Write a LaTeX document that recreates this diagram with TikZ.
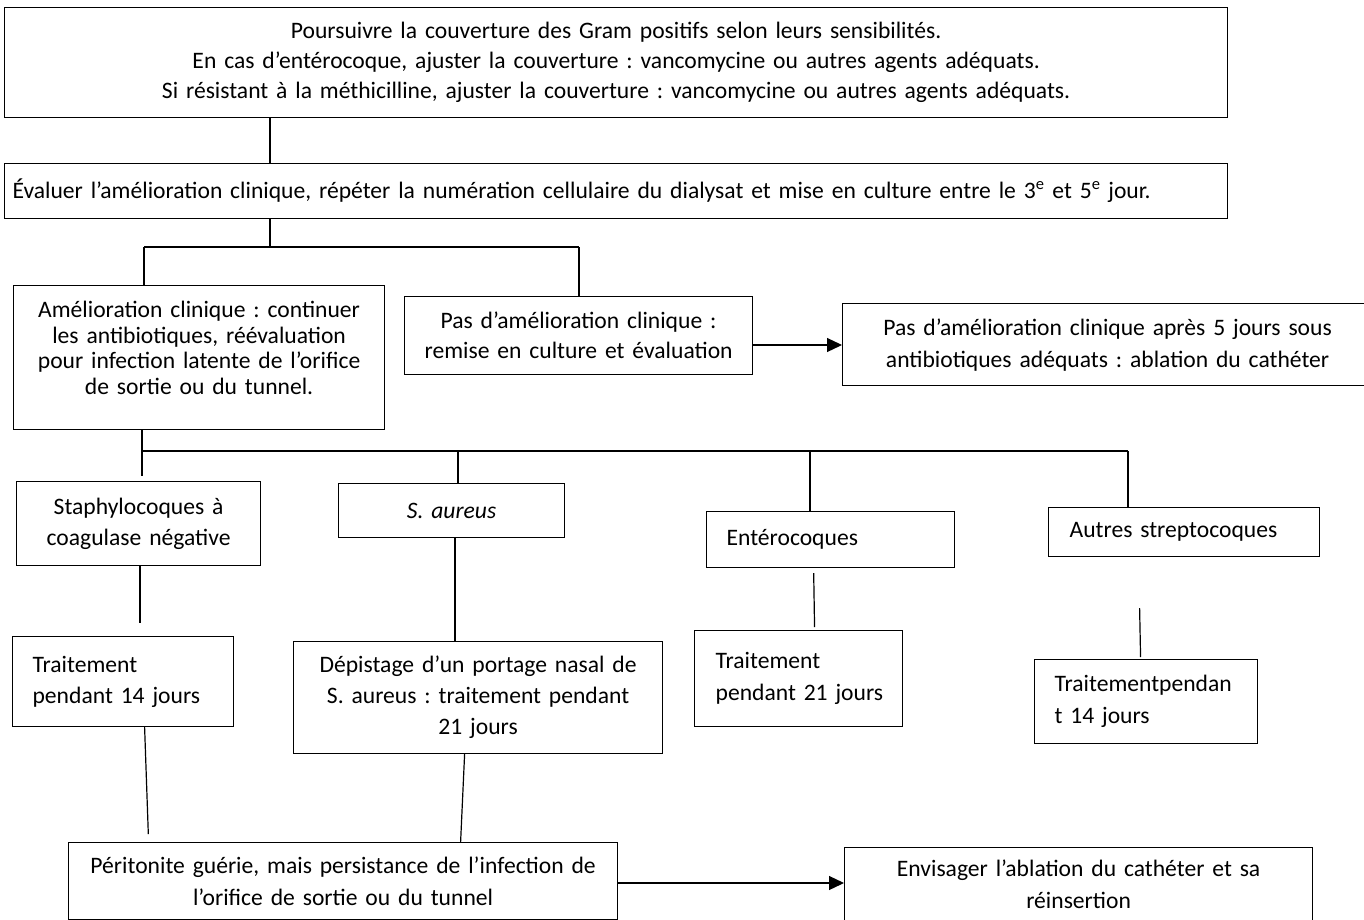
\documentclass[tikz,border=0pt]{standalone}
\usepackage{fontspec}
\setmainfont{Carlito}
\usetikzlibrary{arrows.meta,calc}
\frenchspacing
\tikzset{
  box/.style={draw, line width=1.2pt, inner sep=0pt, anchor=north west},
  ln/.style={line width=1.2pt},
  arr/.style={line width=1.2pt, -{Triangle[length=15pt,width=14pt]}},
  fb/.style={font=\frenchspacing\fontsize{23.6}{#1}\selectfont},
}
\begin{document}
\begin{tikzpicture}[x=1pt,y=-1pt]
\clip (0,0) rectangle (1364,920);
\fill[white] (0,0) rectangle (1364,920);
% nodes
\node[box,fb=30,minimum width=1223pt,minimum height=110pt,text width=1215pt,align=center] (T) at (4,7)
  {Poursuivre la couverture des Gram positifs selon leurs sensibilités.\\
   En cas d’entérocoque, ajuster la couverture : vancomycine ou autres agents adéquats.\\
   Si résistant à la méthicilline, ajuster la couverture : vancomycine ou autres agents adéquats.};
\node[box,fb=30,minimum width=1223pt,minimum height=55pt,text width=1207pt,align=left] (E) at (4,163)
  {\mbox{Évaluer l’amélioration clinique, répéter la numération cellulaire du dialysat et mise en culture entre le 3\textsuperscript{e} et 5\textsuperscript{e} jour.}};
\node[box,fb=25.5,minimum width=371pt,minimum height=144pt,text width=367pt,align=center] (A) at (13,285)
  {Amélioration clinique : continuer\\ les antibiotiques, réévaluation\\ pour infection latente de l’orifice\\ de sortie ou du tunnel.\rule[-20pt]{0pt}{20pt}};
\node[box,fb=30,minimum width=348pt,minimum height=78pt,text width=344pt,align=center] (P) at (404,296)
  {Pas d’amélioration clinique :\\ remise en culture et évaluation};
\node[box,fb=32,minimum width=530pt,minimum height=82pt,text width=526pt,align=center] (R) at (842,303)
  {Pas d’amélioration clinique après 5 jours sous\\ antibiotiques adéquats : ablation du cathéter};
\node[box,fb=31,minimum width=244pt,minimum height=84pt,text width=240pt,align=center] (St) at (16,481)
  {Staphylocoques à\\ coagulase négative};
\node[box,fb=31,minimum width=226pt,minimum height=54pt,text width=222pt,align=center] (Sa) at (338,483)
  {\itshape S. aureus};
\node[box,fb=31,minimum width=248pt,minimum height=56pt,text width=208pt,align=left] (En) at (706,511)
  {\mbox{Entérocoques}};
\node[box,fb=31,minimum width=271pt,minimum height=49pt,text width=229pt,align=left] (Au) at (1048,507)
  {\mbox{Autres streptocoques}};
\node[box,fb=31,minimum width=221pt,minimum height=90pt,text width=181pt,align=left] (T14) at (12,636)
  {\mbox{Traitement}\\ \mbox{pendant 14 jours}};
\node[box,fb=31,minimum width=369pt,minimum height=112pt,text width=365pt,align=center] (D) at (293,641)
  {Dépistage d’un portage nasal de\\ S. aureus : traitement pendant\\ 21 jours};
\node[box,fb=32,minimum width=208pt,minimum height=96pt,text width=166pt,align=left] (T21) at (694,630)
  {\mbox{Traitement}\\ \mbox{pendant 21 jours}};
\node[box,fb=32,minimum width=223pt,minimum height=84pt,text width=183pt,align=left] (TP) at (1034,659)
  {\mbox{Traitementpendan}\\ \mbox{t 14 jours}};
\node[box,fb=32,minimum width=549pt,minimum height=77pt,text width=545pt,align=center] (Pe) at (68,842)
  {Péritonite guérie, mais persistance de l’infection de\\ l’orifice de sortie ou du tunnel};
\node[box,fb=32,minimum width=468pt,minimum height=74pt,text width=464pt,align=center] (Ev) at (844,847)
  {Envisager l’ablation du cathéter et sa\\ réinsertion};
% junction coordinates
\coordinate (c270) at (270,0);
\coordinate (j1) at (270,247);
\coordinate (jl) at (144,247);
\coordinate (jr) at (579,247);
\coordinate (k) at (142,451);
\coordinate (kr) at (1128,451);
\coordinate (k2) at (458,451);
\coordinate (k3) at (810,451);
\coordinate (x140) at (140,0);
\coordinate (x455) at (455,0);
\coordinate (ay) at (0,345);
\coordinate (by) at (0,883);
% connectors
\draw[ln] (T.south -| c270) -- (E.north -| c270);
\draw[ln] (E.south -| c270) -- (j1);
\draw[ln] (jl) -- (jr);
\draw[ln] (jl) -- (A.north -| jl);
\draw[ln] (jr) -- (P.north -| jr);
\draw[ln, shorten >=5pt] (A.south -| k) -- (St.north -| k);
\draw[ln] (k) -- (kr);
\draw[ln] (k2) -- (Sa.north -| k2);
\draw[ln] (k3) -- (En.north -| k3);
\draw[ln] (kr) -- (Au.north -| kr);
\draw[ln, shorten >=13pt] (St.south -| x140) -- (T14.north -| x140);
\draw[ln] (Sa.south -| x455) -- (D.north -| x455);
\draw[ln, shorten >=8pt] ([xshift=21.5pt]T14.south) -- ([xshift=-194.5pt]Pe.north);
\draw[ln] ([xshift=-13.5pt]D.south) -- ([xshift=117.5pt]Pe.north);
\draw[ln, shorten <=5pt, shorten >=3pt] ([xshift=-17pt]En.south) -- ([xshift=16pt]T21.north);
\draw[ln, shorten <=51pt, shorten >=2pt] ([xshift=-45.5pt]Au.south) -- ([xshift=-5.5pt]TP.north);
\draw[arr] (P.east |- ay) -- (R.west |- ay);
\draw[arr] (Pe.east |- by) -- (Ev.west |- by);
\end{tikzpicture}
\end{document}
